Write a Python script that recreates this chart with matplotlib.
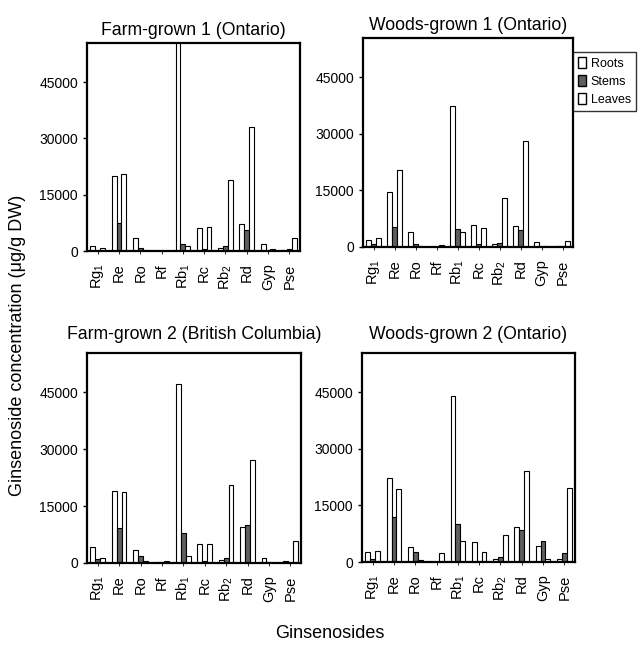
import numpy as np
import matplotlib
matplotlib.use("Agg")
from matplotlib import pyplot as plt
from matplotlib.patches import Patch

plt.rcParams["font.family"] = ["Liberation Sans", "DejaVu Sans"]
plt.rcParams["mathtext.fontset"] = "custom"
plt.rcParams["mathtext.rm"] = "Liberation Sans"
plt.rcParams["mathtext.it"] = "Liberation Sans:italic"

ginsenosides = [r"Rg$_1$", "Re", "Ro", "Rf", r"Rb$_1$", "Rc", r"Rb$_2$", "Rd", "Gyp", "Pse"]

# ug/g DW
farm1_roots  = [1300, 20000, 3500, 100, 60000, 6200,   700,  7200, 1800,  300]
farm1_stems  = [ 300,  7500,  700, 100,  1800,  400,  1300,  5500,  300,  500]
farm1_leaves = [ 700, 20500,  200, 100,  1300, 6400, 19000, 33000,  400, 3500]

woods1_roots  = [1800, 14700, 4000, 100, 37300, 5900,   900,  5600, 1400,  300]
woods1_stems  = [ 700,  5300,  700, 100,  4900,  900,  1000,  4500,  300,  200]
woods1_leaves = [2500, 20500,  350, 500,  4000, 5100, 13100, 28000,  300, 1500]

farm2_roots  = [4200, 19100, 3500, 200, 47200, 5000,   900,  9400, 1300,  400]
farm2_stems  = [1150,  9300, 1750, 300,  7900,  600,  1300,  9900,  200,  350]
farm2_leaves = [1300, 18700,  450, 400,  1750, 5000, 20500, 27300,   50, 5700]

woods2_roots  = [2550, 22300, 3900,  100, 43900, 5200,  700,  9300, 4300,   800]
woods2_stems  = [ 800, 11800, 2700,  100, 10200,  350, 1400,  8500, 5600,  2500]
woods2_leaves = [3000, 19300,  500, 2300,  5600, 2550, 7100, 24200,  800, 19500]

panels = [
    ("Farm-grown 1 (Ontario)", farm1_roots, farm1_stems, farm1_leaves, (87, 251, 213, 208), 6),
    ("Woods-grown 1 (Ontario)", woods1_roots, woods1_stems, woods1_leaves, (363, 247, 210, 209), 6),
    ("Farm-grown 2 (British Columbia)", farm2_roots, farm2_stems, farm2_leaves, (87, 563, 214, 210), 10),
    ("Woods-grown 2 (Ontario)", woods2_roots, woods2_stems, woods2_leaves, (362, 562, 213, 209), 10),
]

W, H = 640, 646
fig = plt.figure(figsize=(W / 100, H / 100), dpi=100)

x = np.arange(len(ginsenosides))
w = 0.23
stem_col = "#5e5e5e"

for title, r, s, l, (px, pb, pw, ph), tpad in panels:
    ax = fig.add_axes([px / W, (H - pb) / H, pw / W, ph / H])
    ax.bar(x - w, r, w, color="white", edgecolor="black", linewidth=0.8)
    ax.bar(x, s, w, color=stem_col, edgecolor="black", linewidth=0.8)
    ax.bar(x + w, l, w, color="white", edgecolor="black", linewidth=0.8)
    ax.set_xlim(-0.5, len(x) - 0.5)
    ax.set_ylim(0, 55400)
    ax.set_yticks([0, 15000, 30000, 45000])
    ax.set_xticks(x)
    ax.set_xticklabels(ginsenosides, rotation=90, fontsize=10.5)
    ax.tick_params(axis="y", labelsize=10, length=3, width=1)
    ax.tick_params(axis="x", length=2, width=0.6, pad=7)
    for sp in ax.spines.values():
        sp.set_linewidth(1.6)
    ax.set_title(title, fontsize=12.7, pad=tpad)

handles = [Patch(facecolor="white", edgecolor="black", label="Roots"),
           Patch(facecolor=stem_col, edgecolor="black", label="Stems"),
           Patch(facecolor="white", edgecolor="black", label="Leaves")]
fig.legend(handles=handles, loc="upper left", bbox_to_anchor=(573 / W, 1 - 52 / H),
           fontsize=9, frameon=True, fancybox=False, edgecolor="black",
           handlelength=0.6, handleheight=1.0, handletextpad=0.4,
           borderpad=0.4, labelspacing=0.4, borderaxespad=0)

fig.text(18 / W, 1 - 345 / H, "Ginsenoside concentration (\u03bcg/g DW)",
         rotation=90, ha="center", va="center", fontsize=13)
fig.text(330 / W, 1 - 633 / H, "Ginsenosides", ha="center", va="center", fontsize=13)

fig.savefig("out.png", dpi=100)
